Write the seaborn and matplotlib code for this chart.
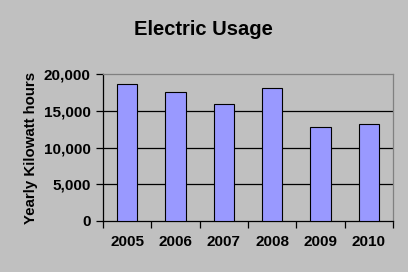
import matplotlib
matplotlib.use("Agg")
import matplotlib.pyplot as plt
import seaborn as sns
import pandas as pd
from matplotlib.ticker import FuncFormatter, MultipleLocator

years = ["2005", "2006", "2007", "2008", "2009", "2010"]
kwh = [18700, 17600, 15950, 18150, 12800, 13200]
title = "Electric Usage"
ylabel = "Yearly Kilowatt hours"

sns.set_theme(style="white")
plt.rcParams['font.family'] = ['Liberation Sans', 'DejaVu Sans']
plt.rcParams['text.color'] = 'black'
plt.rcParams['axes.labelcolor'] = 'black'

df = pd.DataFrame({"year": years, "kwh": kwh})
bg = "#C0C0C0"
fig = plt.figure(figsize=(4.08, 2.72), dpi=100, facecolor=bg)
ax = fig.add_axes([0.2525, 0.1886, 0.7105, 0.5382])
ax.set_facecolor(bg)

sns.barplot(data=df, x="year", y="kwh", color="#9999FF", saturation=1,
            width=0.42, edgecolor="black", linewidth=0.8, ax=ax, zorder=3)

ax.set_ylim(0, 20000)
ax.set_xlim(-0.5, len(years) - 0.5)
ax.yaxis.set_major_locator(MultipleLocator(5000))
ax.yaxis.set_major_formatter(FuncFormatter(lambda v, p: f"{int(v):,}"))
for yv in [5000, 10000, 15000]:
    ax.axhline(yv, color="black", linewidth=0.9, zorder=1)

ax.set_xlabel("")
ax.set_ylabel(ylabel, fontsize=10.8, fontweight="bold", labelpad=4, color="black")
fig.text(0.498, 0.89, title, fontsize=14.5, fontweight="bold", color="black",
         ha="center", va="center")

for s in ["left", "bottom"]:
    ax.spines[s].set_color("black")
    ax.spines[s].set_linewidth(0.9)
for s in ["top", "right"]:
    ax.spines[s].set_color("#808080")
    ax.spines[s].set_linewidth(0.9)

ax.tick_params(axis="y", which="major", direction="out", length=5, width=0.9,
               color="black", left=True, labelsize=11, pad=4, labelcolor="black")
ax.set_xticks([i + 0.5 for i in range(-1, len(years))], minor=True)
ax.tick_params(axis="x", which="major", length=0, labelsize=11, pad=10, labelcolor="black")
ax.tick_params(axis="x", which="minor", direction="out", length=5, width=0.9,
               color="black", bottom=True)
for lbl in ax.get_xticklabels() + ax.get_yticklabels():
    lbl.set_fontweight("bold")

fig.savefig("out.png", dpi=100, facecolor=bg)
